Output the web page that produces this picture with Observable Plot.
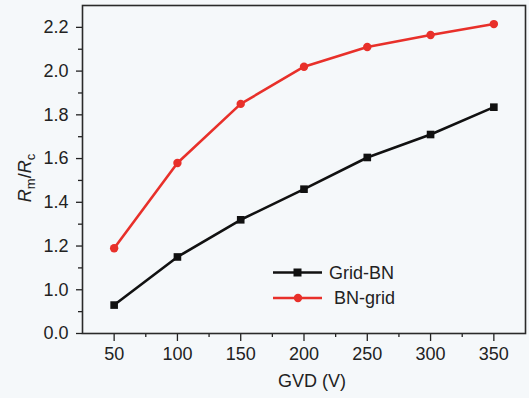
<!DOCTYPE html>
<html><head><meta charset="utf-8">
<script src="https://cdn.jsdelivr.net/npm/d3@7"></script>
<script src="https://cdn.jsdelivr.net/npm/@observablehq/plot@0.6"></script>
<style>
html,body{margin:0;padding:0;background:#f5f8fa;}
</style>
</head><body>
<div id="chart"></div>
<script>
const gvd = [50, 100, 150, 200, 250, 300, 350];
const gridBN = [0.93, 1.15, 1.32, 1.46, 1.605, 1.71, 1.835];
const bnGrid = [1.19, 1.58, 1.85, 2.02, 2.11, 2.165, 2.215];
const yTicks = [0.8, 1.0, 1.2, 1.4, 1.6, 1.8, 2.0, 2.2];
const yTickLabels = ["0.0", "1.0", "1.2", "1.4", "1.6", "1.8", "2.0", "2.2"];
const yMinor = [0.9, 1.1, 1.3, 1.5, 1.7, 1.9, 2.1];
const xTicks = [50, 100, 150, 200, 250, 300, 350];
const xMinor = [75, 125, 175, 225, 275, 325];
const seriesNames = ["Grid-BN", "BN-grid"];
const colors = ["#111111", "#e8302a"];

const rowsA = gvd.map((x, i) => ({x, y: gridBN[i]}));
const rowsB = gvd.map((x, i) => ({x, y: bnGrid[i]}));

const font = "'Liberation Sans', Arial, sans-serif";
const chart = Plot.plot({
  width: 529, height: 398,
  marginLeft: 82, marginRight: 4, marginTop: 5, marginBottom: 65,
  x: {domain: [25, 375]},
  y: {domain: [0.8, 2.3]},
  style: {background: "#f5f8fa", fontFamily: font, fontSize: "18px", color: "#222"},
  marks: [
    Plot.axisY(yTicks, {tickSize: 6, tickPadding: 8, tickFormat: d => yTickLabels[yTicks.indexOf(d)], label: null, fontSize: 18, stroke: "#222", strokeWidth: 1.3}),
    Plot.axisY(yMinor, {tickSize: 4, tickFormat: () => "", label: null, stroke: "#222", strokeWidth: 1.3}),
    Plot.axisX(xTicks, {tickSize: 8, tickPadding: 6, label: null, fontSize: 18, stroke: "#222", strokeWidth: 1.3}),
    Plot.axisX(xMinor, {tickSize: 4, tickFormat: () => "", label: null, stroke: "#222", strokeWidth: 1.3}),
    Plot.frame({stroke: "#2a2a2a", strokeWidth: 1.6}),
    Plot.line(rowsA, {x: "x", y: "y", stroke: colors[0], strokeWidth: 2.6}),
    Plot.dot(rowsA, {x: "x", y: "y", symbol: "square", r: 4.3, fill: colors[0], stroke: null}),
    Plot.line(rowsB, {x: "x", y: "y", stroke: colors[1], strokeWidth: 2.6}),
    Plot.dot(rowsB, {x: "x", y: "y", r: 4.2, fill: colors[1], stroke: null}),
    Plot.text(["GVD (V)"], {frameAnchor: "bottom", dy: 53, dx: 8, fontSize: 18, fill: "#222"})
  ]
});
document.getElementById("chart").appendChild(chart);

const svg = d3.select(chart);
// y label
const yl = svg.append("text")
  .attr("transform", "translate(31,178) rotate(-90)")
  .attr("text-anchor", "middle")
  .attr("font-family", font).attr("font-size", 18).attr("fill", "#222");
yl.append("tspan").attr("font-style", "italic").text("R");
yl.append("tspan").attr("font-size", 13).attr("dy", 4).text("m");
yl.append("tspan").attr("dy", -4).text("/");
yl.append("tspan").attr("font-style", "italic").text("R");
yl.append("tspan").attr("font-size", 13).attr("dy", 4).text("c");

// legend
const lg = svg.append("g").attr("font-family", font).attr("font-size", 18).attr("fill", "#222").attr("text-anchor", "start");
const legY = [272.5, 298];
const textX = [329, 334];
seriesNames.forEach((name, i) => {
  lg.append("line").attr("x1", 273).attr("x2", 322).attr("y1", legY[i]).attr("y2", legY[i])
    .attr("stroke", colors[i]).attr("stroke-width", 2.6);
  if (i === 0) {
    lg.append("rect").attr("x", 297.5 - 4).attr("y", legY[i] - 4).attr("width", 8).attr("height", 8).attr("fill", colors[i]);
  } else {
    lg.append("circle").attr("cx", 298).attr("cy", legY[i]).attr("r", 4.2).attr("fill", colors[i]);
  }
  lg.append("text").attr("x", textX[i]).attr("y", legY[i]).attr("dy", "0.35em").attr("text-anchor", "start").text(name);
});
</script>
</body></html>
